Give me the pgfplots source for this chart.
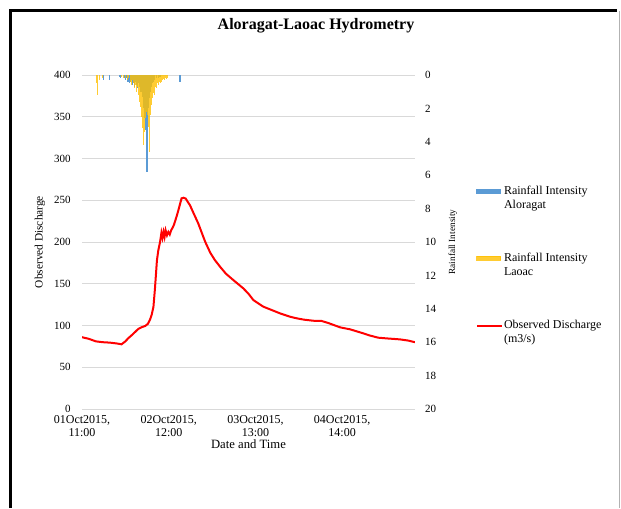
\documentclass[border=0pt]{standalone}
\usepackage{fontspec}
\setmainfont{Liberation Serif}
\usepackage{pgfplots}
\pgfplotsset{compat=1.18}
\definecolor{rainblue}{RGB}{91,155,213}
\definecolor{raingold}{RGB}{255,192,0}
\definecolor{gridgray}{RGB}{217,217,217}
\definecolor{obsred}{RGB}{255,0,0}
\pgfplotsset{
  bluelegend/.style={legend image code/.code={\fill[rainblue] (0pt,3.5pt) rectangle (18pt,6.5pt); \path (0pt,-6pt);}},
  goldlegend/.style={legend image code/.code={\fill[raingold] (0pt,3.5pt) rectangle (18pt,6.5pt); \path (0pt,-6pt);}},
  redlegend/.style={legend image code/.code={\fill[obsred] (0pt,4.55pt) rectangle (18pt,5.45pt); \path (0pt,-6pt);}},
}

\pgfplotstableread{
h q
0 86
2 84
4 81
6 80
8 79.5
10 78.5
11.4 77.5
12.5 81
13.3 84.6
14.5 89
16.2 95.8
17.2 98
18.2 99.4
19 102
19.6 107
20.1 113
20.6 122.5
21.0 142.5
21.3 160
21.6 178
22.0 190
22.5 200
22.9 211
23.2 205
23.5 212
23.8 206
24.1 214
24.5 208
24.9 212
25.3 209
25.7 214
26.1 217
26.5 220.5
26.8 224.4
27.3 231
27.8 238.3
28.3 246
28.7 252.3
29.3 253
29.9 252
30.5 248
31.1 244.3
32 236
33.5 222.4
35.5 200.4
37 187
38.3 178.4
39.8 170.4
41.5 162
43.6 154.5
46.5 144.5
48 138
49.4 130.5
51 126
52.3 122.5
55 118
57.1 114.5
60 110.5
61.9 108.6
64 107
66.7 105.7
69.1 105.4
71 103
74.4 97.8
77.3 95.4
81.1 90.6
83 88
85.4 85.4
88 84.5
91.6 83.4
94 82
96 80
}\discharge

\pgfplotstableread{
h r
6.1 0.3
7.9 0.3
10.8 0.1
11.2 0.15
12.25 0.2
12.5 0.3
12.75 0.2
13 0.3
13.25 0.4
13.5 0.3
13.75 0.5
14 0.4
14.25 0.3
14.5 0.6
14.75 0.4
15 0.5
15.25 0.7
15.5 0.4
15.75 0.6
16 0.8
16.25 0.5
16.5 0.7
16.75 0.9
17 1.0
17.25 0.8
17.5 1.3
17.75 2.0
18 2.6
18.25 3.3
18.5 3.9
18.75 5.8
19 2.8
19.25 2.0
19.5 1.4
19.75 1.0
20 0.7
20.25 0.5
20.5 0.4
20.75 0.3
21 0.3
21.5 0.2
22 0.2
22.5 0.1
28 0.2
28.25 0.4
}\aloragat

\pgfplotstableread{
h r
4.3 0.5
4.6 1.2
5.0 0.3
5.8 0.2
11.5 0.1
12 0.2
12.5 0.2
13 0.3
13.5 0.2
14 0.4
14.25 0.6
14.5 0.3
15 0.5
15.25 0.8
15.5 0.6
15.75 1.0
16 0.7
16.25 1.2
16.5 1.6
16.75 1.1
17 1.9
17.25 2.5
17.5 3.2
17.75 4.2
18 3.4
18.25 2.6
18.5 2.2
18.75 2.0
19 2.4
19.25 3.1
19.5 4.6
19.75 2.4
20 1.8
20.25 1.4
20.5 1.1
20.75 0.9
21 1.2
21.25 0.7
21.5 0.8
21.75 0.5
22 0.6
22.25 0.4
22.5 0.5
22.75 0.3
23 0.4
23.25 0.3
23.5 0.25
23.75 0.3
24 0.2
24.25 0.25
24.5 0.15
}\laoac

\begin{document}
\begin{tikzpicture}
\useasboundingbox (0,0) rectangle (465.75pt,381pt);
\fill[white] (0,0) rectangle (465.75pt,381pt);
\draw[line width=2.5pt] (8pt,0) -- (8pt,373pt) -- (463pt,373pt);
\draw[gray!60, line width=0.75pt] (464.8pt,373pt) -- (464.8pt,0);
\node[font=\bfseries\fontsize{12}{14}\selectfont] at (237pt,362pt) {Aloragat-Laoac Hydrometry};

\begin{axis}[
  at={(61.5pt,74.25pt)}, anchor=south west,
  width=249.75pt, height=250.5pt, scale only axis,
  xmin=0, xmax=96, ymin=0, ymax=400,
  ytick={0,50,...,400},
  xtick={0,25,50,75},
  xticklabels={{01Oct2015,\\11:00},{02Oct2015,\\12:00},{03Oct2015,\\13:00},{04Oct2015,\\14:00}},
  tick label style={font=\fontsize{8.25}{10}\selectfont},
  xticklabel style={align=center, font=\fontsize{9}{9.8}\selectfont, yshift=-1.5pt},
  /pgf/number format/assume math mode=true,
  yticklabel style={xshift=-5pt},
  axis line style={draw=none},
  major tick length=0pt,
  ymajorgrids, major grid style={gridgray, line width=0.75pt},
  xlabel={Date and Time},
  xlabel style={font=\fontsize{9.5}{11}\selectfont, at={(axis description cs:0.5,-0.104)}, anchor=center},
  ylabel={Observed Discharge},
  ylabel style={font=\fontsize{8.5}{10}\selectfont, at={(axis description cs:-0.126,0.5)}, anchor=center},
]
\addplot[obsred, line width=1.5pt, no marks] table[x=h, y=q] {\discharge};
\end{axis}

\begin{axis}[
  at={(61.5pt,74.25pt)}, anchor=south west,
  width=249.75pt, height=250.5pt, scale only axis,
  xmin=0, xmax=96, ymin=0, ymax=20, y dir=reverse,
  axis x line=none, axis y line*=right,
  ytick={0,2,...,20},
  tick label style={font=\fontsize{8.25}{10}\selectfont},
  /pgf/number format/assume math mode=true,
  yticklabel style={xshift=4pt},
  axis line style={draw=none},
  major tick length=0pt,
  ylabel={Rainfall Intensity},
  ylabel style={font=\fontsize{7}{8}\selectfont, at={(axis description cs:1.114,0.5)}, anchor=center, rotate=0},
  legend cell align=left,
  legend style={at={(axis description cs:1.171,0.685)}, anchor=north west, draw=none, fill=none,
    font=\fontsize{9}{10.5}\selectfont, row sep=28pt, nodes={align=left}},
]
\addplot[ycomb, draw=rainblue, line width=0.85pt, no marks, bluelegend]
  table[x=h, y=r] {\aloragat};
\addlegendentry{Rainfall Intensity\\Aloragat}
\addplot[ycomb, draw=raingold, line width=0.8pt, no marks, opacity=0.8, goldlegend]
  table[x=h, y=r] {\laoac};
\addlegendentry{Rainfall Intensity\\Laoac}
\addlegendimage{redlegend}
\addlegendentry{Observed Discharge\\(m3/s)}
\end{axis}
\end{tikzpicture}
\end{document}
